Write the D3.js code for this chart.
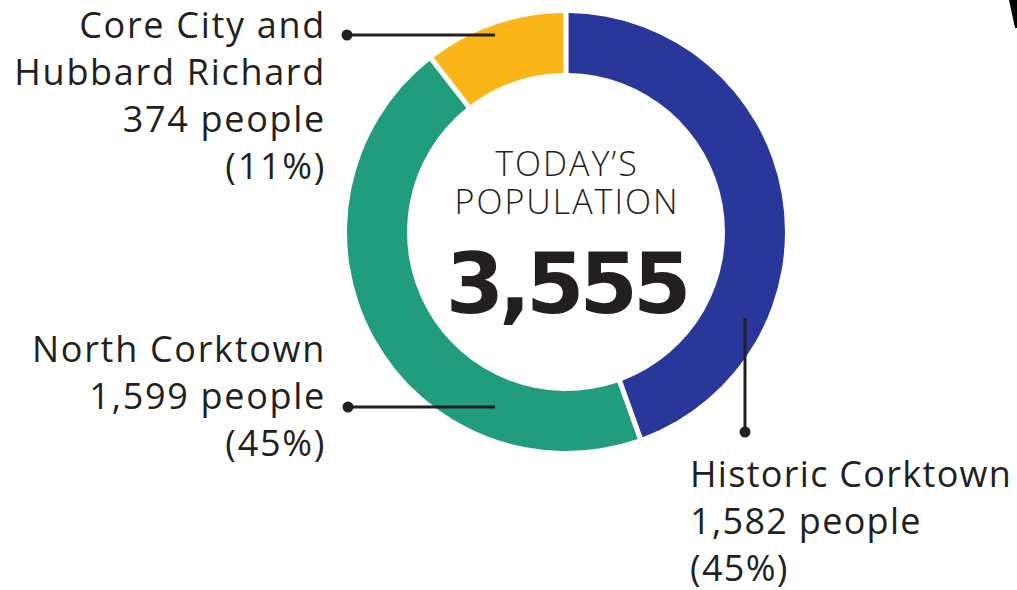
<!DOCTYPE html>
<html>
<head>
<meta charset="utf-8">
<script src="https://cdn.jsdelivr.net/npm/d3@7"></script>
<style>
  body { margin: 0; background: #fff; }
  text { font-family: "Open Sans", Lato, sans-serif; fill: #231f20; }
</style>
</head>
<body>
<div id="container"></div>
<script>
const names = ["Historic Corktown", "North Corktown", "Core City and Hubbard Richard"];
const people = [1582, 1599, 374];
const shares = ["45%", "45%", "11%"];
const colors = ["#29369a", "#219c7c", "#fab519"];
const labelLines = [
    ["Historic Corktown", "1,582 people", "(45%)"],
    ["North Corktown", "1,599 people", "(45%)"],
    ["Core City and", "Hubbard Richard", "374 people", "(11%)"]
];
const total = d3.sum(people);

const WIDTH = 1017,
      HEIGHT = 590;

const cx = 566, cy = 232,
      outerR = 219, innerR = 159;

const svg = d3.select('#container').append('svg')
    .attr("width", WIDTH).attr("height", HEIGHT);

const pie = d3.pie().sort(null).value((d) => d);
const arc = d3.arc().innerRadius(innerR).outerRadius(outerR).padAngle(0.019);

const donut = svg.append("g").attr("transform", `translate(${cx}, ${cy})`);

donut.selectAll("path")
    .data(pie(people))
    .join("path")
    .attr("d", arc)
    .attr("fill", (d, i) => colors[i]);

// centre text
donut.append("text")
    .attr("text-anchor", "middle")
    .attr("x", 1)
    .attr("y", -56)
    .style("font-size", "34px")
    .style("font-weight", 300)
    .style("letter-spacing", "2px")
    .text("TODAY\u2019S");

donut.append("text")
    .attr("text-anchor", "middle")
    .attr("x", 1)
    .attr("y", -18)
    .style("font-size", "34px")
    .style("font-weight", 300)
    .style("letter-spacing", "2px")
    .text("POPULATION");

donut.append("text")
    .attr("text-anchor", "middle")
    .attr("x", 0)
    .attr("y", 81)
    .style("font-family", "'DejaVu Sans', sans-serif")
    .style("font-size", "84px")
    .style("font-weight", "bold")
    .style("letter-spacing", "-5px")
    .text(d3.format(",")(total));

const leaders = [
    {x1: 745, y1: 318 - cy, x2: 745, y2: 432 - cy},
    {x1: 495, y1: 407 - cy, x2: 348, y2: 407 - cy},
    {x1: 495, y1: 35 - cy, x2: 347, y2: 35 - cy}
];

const lg = svg.append("g").attr("transform", `translate(0, ${cy})`);
lg.selectAll("line")
    .data(leaders)
    .join("line")
    .attr("x1", (d) => d.x1).attr("y1", (d) => d.y1)
    .attr("x2", (d) => d.x2).attr("y2", (d) => d.y2)
    .attr("stroke", "#231f20")
    .attr("stroke-width", 3);

lg.selectAll("circle")
    .data(leaders)
    .join("circle")
    .attr("cx", (d) => d.x2).attr("cy", (d) => d.y2)
    .attr("r", 5.5)
    .attr("fill", "#231f20");

// labels
const labelPos = [
    {x: 690, y: 487, anchor: "start", ls: 1.3},
    {x: 326, y: 362, anchor: "end", ls: 1.7},
    {x: 326, y: 38, anchor: "end", ls: 1.7}
];

labelLines.forEach((lines, i) => {
    const t = svg.append("text")
        .attr("text-anchor", labelPos[i].anchor)
        .attr("x", labelPos[i].x)
        .attr("y", labelPos[i].y)
        .style("font-size", "36px")
        .style("font-weight", 400)
        .style("letter-spacing", labelPos[i].ls + "px");
    lines.forEach((l, j) => {
        t.append("tspan")
            .attr("x", labelPos[i].x)
            .attr("dy", j === 0 ? 0 : 47)
            .text(l);
    });
});

// edge of shape cut off at the top right
svg.append("path")
    .attr("d", "M1009,0 L1017,0 L1017,28 L1015,28 Z")
    .attr("fill", "#000");
</script>
</body>
</html>
